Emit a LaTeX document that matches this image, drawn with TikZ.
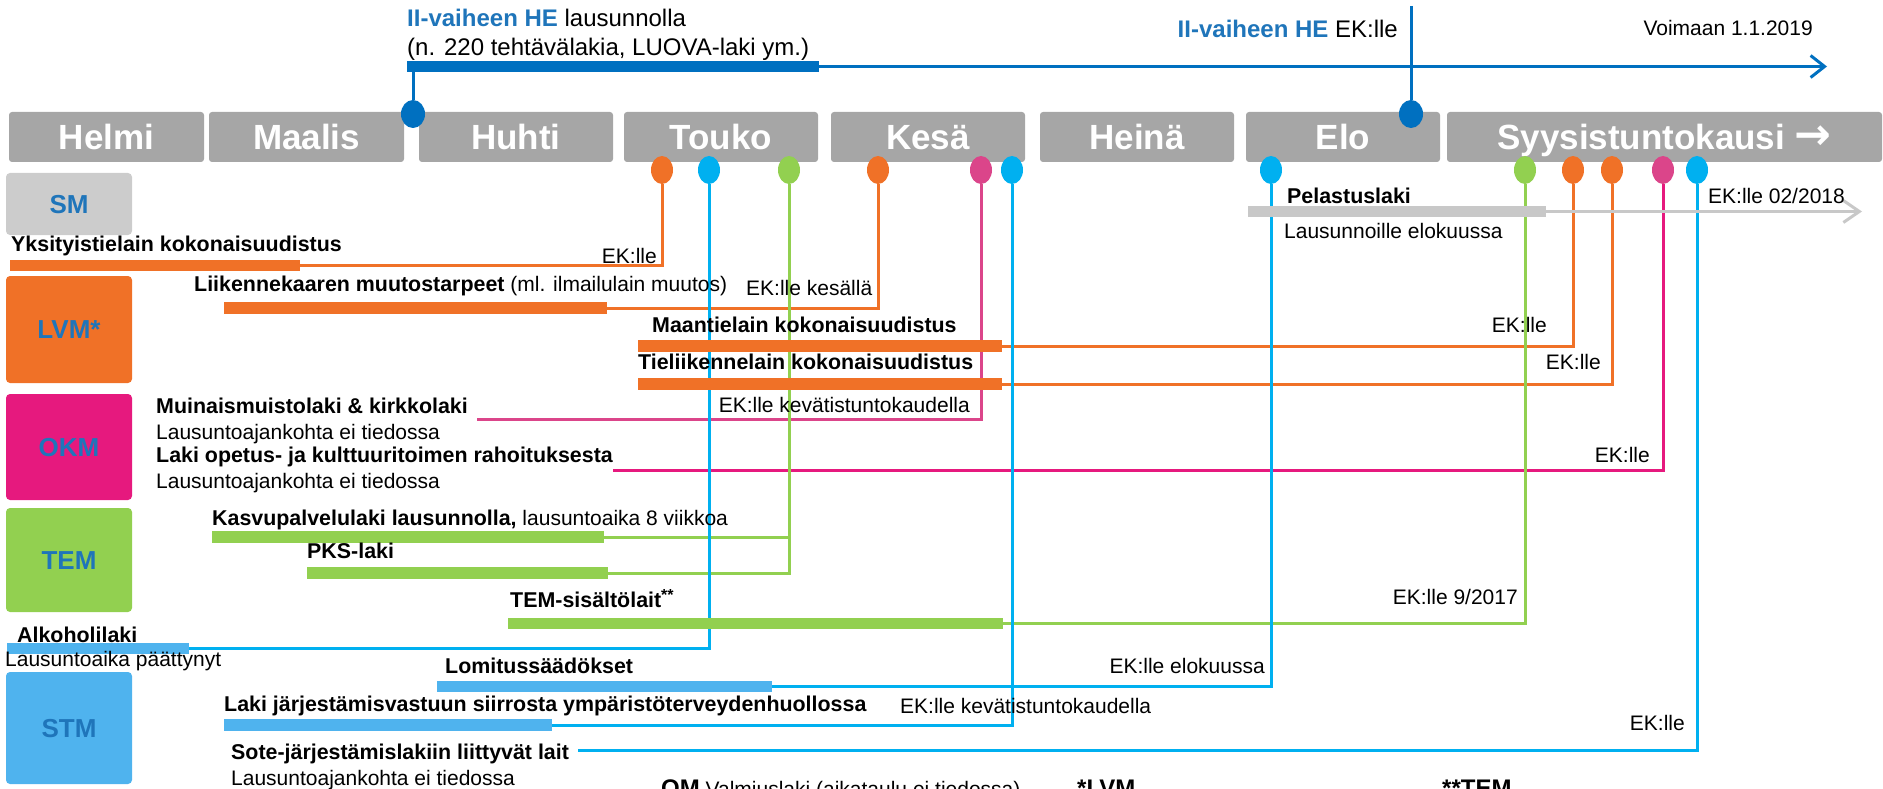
\documentclass[tikz,border=0pt]{standalone}
\usepackage{fontspec}
\setmainfont{Liberation Sans}
\newfontfamily\arrfont{DejaVu Sans}
\usetikzlibrary{shapes.geometric}
\usetikzlibrary{arrows.meta}
\usetikzlibrary{backgrounds}

\definecolor{monthgray}{HTML}{A6A6A6}
\definecolor{smgray}{HTML}{CCCCCC}
\definecolor{lvmorange}{HTML}{F07127}
\definecolor{okmpink}{HTML}{E6197E}
\definecolor{dotpink}{HTML}{DB458A}
\definecolor{temgreen}{HTML}{92D050}
\definecolor{stmblue}{HTML}{4FB3EE}
\definecolor{lineblue}{HTML}{00B0F0}
\definecolor{heblue}{HTML}{0070C0}
\definecolor{depblue}{HTML}{1F75BA}
\definecolor{pelgray}{HTML}{C8C8C8}

\newcommand\fsmon{\fontsize{35}{40}\selectfont}
\newcommand\fsdep{\fontsize{26}{30}\selectfont}
\newcommand\fshe{\fontsize{24}{28}\selectfont}
\newcommand\fstxt{\fontsize{21}{25}\selectfont}
\newcommand\fsbold{\fontsize{21.4}{25}\selectfont\bfseries}

\begin{document}
\begin{tikzpicture}[x=1pt,y=-1pt]
\tikzset{mon/.style = {rectangle,rounded corners=3pt,fill=monthgray,minimum height=50pt,inner sep=0,text=white,font=\fsmon\bfseries,text height=25pt,text depth=0pt}}
\tikzset{dep/.style = {rectangle,rounded corners=4pt,minimum width=126pt,inner sep=0,text=depblue,font=\fsdep\bfseries,text height=18.6pt,text depth=0pt}}
\tikzset{knob/.style = {ellipse,minimum width=22pt,minimum height=28pt,inner sep=0}}
\tikzset{lbar/.style = {rectangle,minimum height=11.5pt,inner sep=0,anchor=west}}
\tikzset{lab/.style = {inner sep=0,anchor=base west,font=\fstxt}}
\tikzset{blab/.style = {lab,font=\fsbold}}
\tikzset{rlab/.style = {inner sep=0,anchor=base east,font=\fstxt}}
\tikzset{conn/.style = {line width=3pt}}
\useasboundingbox (0,0) rectangle (1883,789);
\clip (0,0) rectangle (1883,789);
% months
\node[mon,minimum width=195pt] (helmi) at (106.5,137) {Helmi};
\node[mon,minimum width=195pt] (maalis) at (306.5,137) {Maalis};
\node[mon,minimum width=194pt] (huhti) at (516,137) {Huhti};
\node[mon,minimum width=194pt] (touko) at (721,137) {Touko};
\node[mon,minimum width=194pt] (kesa) at (928,137) {Kesä};
\node[mon,minimum width=194pt] (heina) at (1137,137) {Heinä};
\node[mon,minimum width=194pt] (elo) at (1343,137) {Elo};
\node[mon,minimum width=435pt] (syys) at (1664.5,137) {Syysistuntokausi {\arrfont\fontsize{44}{44}\selectfont\bfseries →}};
% ministries
\node[dep,fill=smgray,minimum height=62pt] (sm) at (69,204) {SM};
\node[dep,fill=lvmorange,minimum height=107pt] (lvm) at (69,329.5) {LVM*};
\node[dep,fill=okmpink,minimum height=106pt] (okm) at (69,447) {OKM};
\node[dep,fill=temgreen,minimum height=104pt] (tem) at (69,560) {TEM};
\node[dep,fill=stmblue,minimum height=112pt] (stm) at (69,728) {STM};
% II-vaiheen HE
\node[lab,font=\fshe] (helaus) at (407,27) {{\color{depblue}\bfseries II-vaiheen HE} lausunnolla};
\node[lab,font=\fshe] (hetehtava) at (407,56) {(n. 220 tehtävälakia, LUOVA-laki ym.)};
\node[rlab,font=\fshe] (heek) at (1398,38) {{\color{depblue}\bfseries II-vaiheen HE} EK:lle};
\node[rlab] (voimaan) at (1813,36) {Voimaan 1.1.2019};
\node[lbar,fill=heblue,minimum width=412pt] (hebar) at (407,66.5) {};
\coordinate (heend) at (1827,66.5);
\coordinate (hetop) at (1411,6);
\node[knob,fill=heblue,minimum width=24pt] (he1) at (413,114) {};
\node[knob,fill=heblue,minimum width=24pt] (he2) at (1411,114) {};
% bars
\node[lbar,fill=lvmorange,minimum width=290pt] (yksbar) at (10,265.5) {};
\node[lbar,fill=lvmorange,minimum width=383pt] (liibar) at (224,308) {};
\node[lbar,fill=lvmorange,minimum width=364pt] (maabar) at (638,346) {};
\node[lbar,fill=lvmorange,minimum width=364pt] (tiebar) at (638,384) {};
\node[lbar,fill=temgreen,minimum width=392pt] (kasbar) at (212,537) {};
\node[lbar,fill=temgreen,minimum width=301pt] (pksbar) at (307,573) {};
\node[lbar,fill=temgreen,minimum width=495pt] (tembar) at (508,623.5) {};
\node[lbar,fill=stmblue,minimum width=182pt] (alkbar) at (7,648.5) {};
\node[lbar,fill=stmblue,minimum width=335pt] (lombar) at (437,686.5) {};
\node[lbar,fill=stmblue,minimum width=328pt] (lakbar) at (224,725) {};
\node[lbar,fill=pelgray,minimum width=298pt] (pelbar) at (1248,211.5) {};
\coordinate (pelend) at (1862,211.5);
\coordinate (muin) at (477,419);
\coordinate (opet) at (613,470);
\coordinate (sote) at (578,750);
% knobs
\node[knob,fill=lvmorange] (o1) at (662,170) {};
\node[knob,fill=lineblue] (b1) at (709,170) {};
\node[knob,fill=temgreen] (g1) at (789,170) {};
\node[knob,fill=lvmorange] (o2) at (878,170) {};
\node[knob,fill=dotpink] (p1) at (981,170) {};
\node[knob,fill=lineblue] (b2) at (1012,170) {};
\node[knob,fill=lineblue] (b3) at (1271,170) {};
\node[knob,fill=temgreen] (g2) at (1525,170) {};
\node[knob,fill=lvmorange] (o3) at (1573,170) {};
\node[knob,fill=lvmorange] (o4) at (1612,170) {};
\node[knob,fill=dotpink] (p2) at (1663,170) {};
\node[knob,fill=lineblue] (b4) at (1697,170) {};
% labels
\node[blab] (yks) at (11,251) {Yksityistielain kokonaisuudistus};
\node[rlab] (yksek) at (657,263) {EK:lle};
\node[lab] (lii) at (194,291) {{\fsbold Liikennekaaren muutostarpeet} (ml. ilmailulain muutos)};
\node[lab] (liiek) at (746,295) {EK:lle kesällä};
\node[blab] (maa) at (652,332) {Maantielain kokonaisuudistus};
\node[rlab] (maaek) at (1547,332) {EK:lle};
\node[blab] (tie) at (638,369) {Tieliikennelain kokonaisuudistus};
\node[rlab] (tieek) at (1601,369) {EK:lle};
\node[blab] (muinlaki) at (156,413) {Muinaismuistolaki \& kirkkolaki};
\node[lab] (muinaika) at (156,439) {Lausuntoajankohta ei tiedossa};
\node[rlab] (muinek) at (970,412) {EK:lle kevätistuntokaudella};
\node[blab] (opetlaki) at (156,462) {Laki opetus- ja kulttuuritoimen rahoituksesta};
\node[lab] (opetaika) at (156,488) {Lausuntoajankohta ei tiedossa};
\node[rlab] (opetek) at (1650,462) {EK:lle};
\node[lab] (kas) at (212,525) {{\fsbold Kasvupalvelulaki lausunnolla,} lausuntoaika 8 viikkoa};
\node[blab] (pks) at (307,558) {PKS-laki};
\node[blab] (temsis) at (510,607) {TEM-sisältölait\raisebox{7pt}{\fontsize{16}{16}\selectfont **}};
\node[rlab] (temek) at (1518,604) {EK:lle 9/2017};
\node[blab] (alk) at (17,642) {Alkoholilaki};
\node[lab] (alkaika) at (5,666) {Lausuntoaika päättynyt};
\node[blab] (lom) at (445,673) {Lomitussäädökset};
\node[rlab] (lomek) at (1265,673) {EK:lle elokuussa};
\node[blab] (lak) at (224,711) {Laki järjestämisvastuun siirrosta ympäristöterveydenhuollossa};
\node[lab] (lakek) at (900,713) {EK:lle kevätistuntokaudella};
\node[blab] (sotelaki) at (231,759) {Sote-järjestämislakiin liittyvät lait};
\node[lab] (soteaika) at (231,785) {Lausuntoajankohta ei tiedossa};
\node[rlab] (soteek) at (1685,730) {EK:lle};
\node[blab] (pel) at (1287,204) {Pelastuslaki};
\node[lab] (pelaus) at (1284,238) {Lausunnoille elokuussa};
\node[lab] (pelek) at (1708,204) {EK:lle 02/2018};
\node[lab] (om) at (661,796) {{\fshe\bfseries OM} Valmiuslaki (aikataulu ei tiedossa)};
\node[lab,font=\fshe\bfseries] (lvmnote) at (1077,796) {*LVM};
\node[lab,font=\fshe\bfseries] (temnote) at (1442,796) {**TEM};
%edges
\begin{pgfonlayer}{background}
\draw[conn,heblue,-{Straight Barb[length=14pt,width=22pt]}] (hebar.east) -- (heend);
\draw[conn,heblue] (he1) -- (he1 |- hebar.south);
\draw[conn,heblue] (hetop) -- (he2);
\draw[conn,lvmorange] (yksbar.east) -| (o1);
\draw[conn,lvmorange] (liibar.east) -| (o2);
\draw[conn,lvmorange] (maabar.east) -| (o3);
\draw[conn,lvmorange] (tiebar.east) -| (o4);
\draw[conn,dotpink] (muin) -| (p1);
\draw[conn,okmpink] (opet) -| (p2);
\draw[conn,temgreen] (kasbar.east) -| (g1);
\draw[conn,temgreen] (pksbar.east) -| (g1);
\draw[conn,temgreen] (tembar.east) -| (g2);
\draw[conn,lineblue] (alkbar.east) -| (b1);
\draw[conn,lineblue] (lakbar.east) -| (b2);
\draw[conn,lineblue] (lombar.east) -| (b3);
\draw[conn,lineblue] (sote) -| (b4);
\draw[conn,pelgray,-{Straight Barb[length=16pt,width=22pt]}] (pelbar.east) -- (pelend);
\end{pgfonlayer}
\end{tikzpicture}
\end{document}
